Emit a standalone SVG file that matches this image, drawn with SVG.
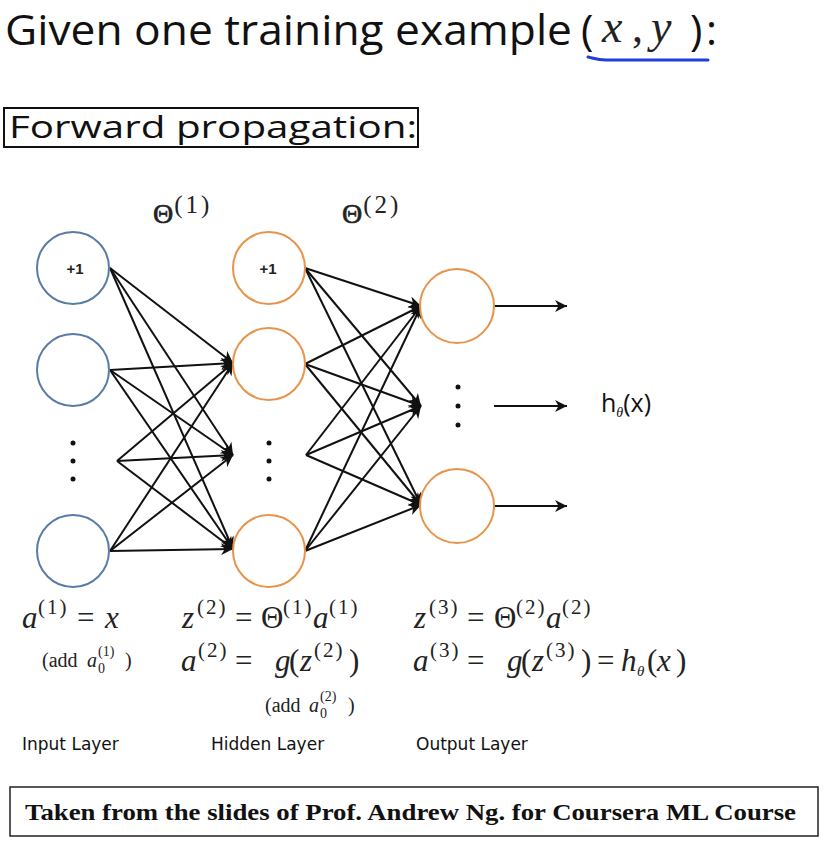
<svg xmlns="http://www.w3.org/2000/svg" width="825" height="844" viewBox="0 0 825 844">
<style>
.sans{font-family:"Open Sans","Liberation Sans",sans-serif;fill:#111}
.lay{font-family:"DejaVu Sans","Liberation Sans",sans-serif;font-size:17px;fill:#111}
.m{font-family:"Liberation Serif","DejaVu Serif",serif;font-size:31px;fill:#222}
.i{font-style:italic}
.sup{font-size:21px;letter-spacing:2px}
.sm{font-size:20px}
.tiny{font-size:14px}
.in{fill:#fff;stroke:#5a7ba6;stroke-width:2}
.hid{fill:#fff;stroke:#e8934a;stroke-width:2}
.one{font-family:"Liberation Sans",sans-serif;font-size:15px;font-weight:bold;fill:#222;text-anchor:middle}
.dot{fill:#111}
.c{stroke:#111;stroke-width:2;fill:none;marker-end:url(#ah)}
</style>
<defs>
<marker id="ah" viewBox="0 0 10 10" refX="10" refY="5" markerWidth="6.5" markerHeight="6" orient="auto" markerUnits="strokeWidth">
<path d="M0,0 L10,5 L0,10 L3,5 z" fill="#111"/>
</marker>
</defs>
<rect width="825" height="844" fill="#fff"/>

<g id="title">
<text class="sans" x="5" y="45" font-size="42" textLength="567" lengthAdjust="spacingAndGlyphs">Given one training example</text>
<text class="sans" x="581" y="45" font-size="42">(</text>
<text class="m i" x="602" y="42" style="font-size:46px">x</text>
<text class="m" x="632" y="42" style="font-size:44px">,</text>
<text class="m i" x="651" y="42" style="font-size:46px">y</text>
<text class="sans" x="690" y="45" font-size="42">)</text>
<text class="sans" x="706" y="45" font-size="42">:</text>
<path d="M588,57 C593,58 597,60 606,60 L708,60" stroke="#1f3fd6" stroke-width="3" fill="none" stroke-linecap="round"/>
</g>

<g id="forward-box">
<rect x="4" y="108" width="414" height="39" fill="none" stroke="#111" stroke-width="2"/>
<text class="sans" x="9" y="138" font-size="31" textLength="408" lengthAdjust="spacingAndGlyphs">Forward propagation:</text>
</g>

<g id="theta-labels">
<text class="m" x="153" y="223" style="font-size:28px" stroke="#222" stroke-width="0.6">Θ<tspan style="font-size:25px;letter-spacing:3px" stroke-width="0" y="213" dx="1">(1)</tspan></text>
<text class="m" x="342" y="223" style="font-size:28px" stroke="#222" stroke-width="0.6">Θ<tspan style="font-size:25px;letter-spacing:3px" stroke-width="0" y="213" dx="1">(2)</tspan></text>
</g>

<g id="connectors">
<line class="c" x1="110" y1="268" x2="233" y2="363"/>
<line class="c" x1="110" y1="268" x2="233" y2="455"/>
<line class="c" x1="110" y1="268" x2="233" y2="549"/>
<line class="c" x1="110" y1="370" x2="233" y2="363"/>
<line class="c" x1="110" y1="370" x2="233" y2="455"/>
<line class="c" x1="110" y1="370" x2="233" y2="549"/>
<line class="c" x1="117" y1="461" x2="233" y2="363"/>
<line class="c" x1="117" y1="461" x2="233" y2="455"/>
<line class="c" x1="117" y1="461" x2="233" y2="549"/>
<line class="c" x1="110" y1="551" x2="233" y2="363"/>
<line class="c" x1="110" y1="551" x2="233" y2="455"/>
<line class="c" x1="110" y1="551" x2="233" y2="549"/>

<line class="c" x1="305" y1="268" x2="421" y2="306"/>
<line class="c" x1="305" y1="268" x2="421" y2="406"/>
<line class="c" x1="305" y1="268" x2="421" y2="505"/>
<line class="c" x1="305" y1="364" x2="421" y2="306"/>
<line class="c" x1="305" y1="364" x2="421" y2="406"/>
<line class="c" x1="305" y1="364" x2="421" y2="505"/>
<line class="c" x1="306" y1="455" x2="421" y2="306"/>
<line class="c" x1="306" y1="455" x2="421" y2="406"/>
<line class="c" x1="306" y1="455" x2="421" y2="505"/>
<line class="c" x1="305" y1="551" x2="421" y2="306"/>
<line class="c" x1="305" y1="551" x2="421" y2="406"/>
<line class="c" x1="305" y1="551" x2="421" y2="505"/>

<line class="c" x1="494" y1="306" x2="567" y2="306"/>
<line class="c" x1="494" y1="406" x2="567" y2="406"/>
<line class="c" x1="494" y1="506" x2="567" y2="506"/>
</g>

<g id="input-bias">
<circle class="in" cx="73" cy="268" r="36"/>
<text class="one" x="75" y="274">+1</text>
</g>
<g id="input-1"><circle class="in" cx="73" cy="370" r="36"/></g>
<g id="input-dots">
<circle class="dot" cx="73" cy="443" r="2.5"/><circle class="dot" cx="73" cy="461" r="2.5"/><circle class="dot" cx="73" cy="479" r="2.5"/>
</g>
<g id="input-n"><circle class="in" cx="73" cy="551" r="36"/></g>

<g id="hidden-bias">
<circle class="hid" cx="269" cy="268" r="36"/>
<text class="one" x="268" y="274">+1</text>
</g>
<g id="hidden-1"><circle class="hid" cx="269" cy="364" r="36"/></g>
<g id="hidden-dots">
<circle class="dot" cx="269" cy="443" r="2.5"/><circle class="dot" cx="269" cy="461" r="2.5"/><circle class="dot" cx="269" cy="479" r="2.5"/>
</g>
<g id="hidden-n"><circle class="hid" cx="269" cy="551" r="36"/></g>

<g id="output-1"><circle class="hid" cx="457" cy="306" r="37"/></g>
<g id="output-dots">
<circle class="dot" cx="458" cy="387" r="2.5"/><circle class="dot" cx="458" cy="406" r="2.5"/><circle class="dot" cx="458" cy="425" r="2.5"/>
</g>
<g id="output-k"><circle class="hid" cx="457" cy="506" r="37"/></g>

<g id="h-label">
<text class="sans" x="601" y="412" font-size="25">h<tspan font-family="Liberation Serif,serif" font-style="italic" font-size="14" dy="5">θ</tspan><tspan dy="-5">(x)</tspan></text>
</g>

<g id="eq-input">
<text class="m"><tspan class="i" x="22" y="628">a</tspan><tspan class="sup" x="38" y="614">(1)</tspan><tspan x="77" y="628">=</tspan><tspan class="i" x="105" y="628">x</tspan></text>
<text class="m sm"><tspan x="42" y="667">(add</tspan><tspan class="i" x="87" y="667">a</tspan><tspan class="tiny" x="98" y="673">0</tspan><tspan class="tiny" x="98" y="656">(1)</tspan><tspan x="125" y="667">)</tspan></text>
</g>

<g id="eq-hidden">
<text class="m"><tspan class="i" x="182" y="628">z</tspan><tspan class="sup" x="197" y="614">(2)</tspan><tspan x="235" y="628">=</tspan><tspan x="261" y="628">Θ</tspan><tspan class="sup" x="283" y="614">(1)</tspan><tspan class="i" x="313" y="628">a</tspan><tspan class="sup" x="329" y="614">(1)</tspan></text>
<text class="m"><tspan class="i" x="181" y="671">a</tspan><tspan class="sup" x="198" y="657">(2)</tspan><tspan x="235" y="671">=</tspan><tspan class="i" x="275" y="671">g</tspan><tspan x="289" y="671">(</tspan><tspan class="i" x="300" y="671">z</tspan><tspan class="sup" x="314" y="657">(2)</tspan><tspan x="349" y="671">)</tspan></text>
<text class="m sm"><tspan x="265" y="712">(add</tspan><tspan class="i" x="309" y="712">a</tspan><tspan class="tiny" x="320" y="718">0</tspan><tspan class="tiny" x="320" y="701">(2)</tspan><tspan x="348" y="712">)</tspan></text>
</g>

<g id="eq-output">
<text class="m"><tspan class="i" x="414" y="628">z</tspan><tspan class="sup" x="429" y="614">(3)</tspan><tspan x="467" y="628">=</tspan><tspan x="494" y="628">Θ</tspan><tspan class="sup" x="516" y="614">(2)</tspan><tspan class="i" x="546" y="628">a</tspan><tspan class="sup" x="562" y="614">(2)</tspan></text>
<text class="m"><tspan class="i" x="413" y="671">a</tspan><tspan class="sup" x="430" y="657">(3)</tspan><tspan x="467" y="671">=</tspan><tspan class="i" x="507" y="671">g</tspan><tspan x="521" y="671">(</tspan><tspan class="i" x="532" y="671">z</tspan><tspan class="sup" x="546" y="657">(3)</tspan><tspan x="581" y="671">)</tspan><tspan x="597" y="671">=</tspan><tspan class="i" x="621" y="671">h</tspan><tspan class="i" font-size="15" x="637" y="676">θ</tspan><tspan x="647" y="671">(</tspan><tspan class="i" x="657" y="671">x</tspan><tspan x="676" y="671">)</tspan></text>
</g>

<g id="layer-labels">
<text class="lay" x="22" y="750">Input Layer</text>
<text class="lay" x="211" y="750">Hidden Layer</text>
<text class="lay" x="416" y="750">Output Layer</text>
</g>

<g id="credit">
<rect x="10" y="787" width="808" height="49" fill="none" stroke="#222" stroke-width="1.5"/>
<text x="25" y="820" font-family="Liberation Serif,serif" font-weight="bold" font-size="23" fill="#111" textLength="771" lengthAdjust="spacingAndGlyphs">Taken from the slides of Prof. Andrew Ng. for Coursera ML Course</text>
</g>
</svg>
